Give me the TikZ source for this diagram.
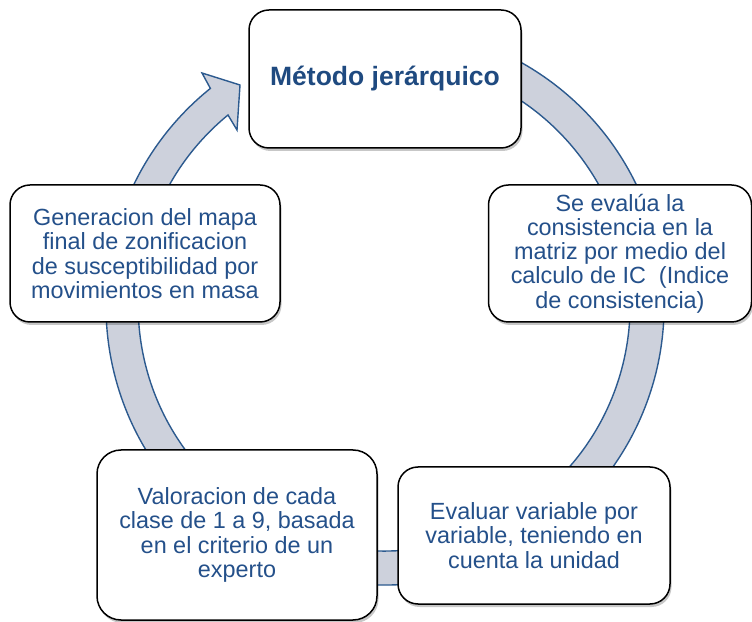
\documentclass[tikz,border=0pt]{standalone}
\usepackage{fontspec}
\setmainfont{Liberation Sans}
\usetikzlibrary{shadows}
\definecolor{txtblue}{HTML}{24508A}
\definecolor{titleblue}{HTML}{1F4A80}
\definecolor{bandfill}{HTML}{CDD1DC}
\definecolor{bandline}{HTML}{2C5A8F}
\tikzset{
  cyclebox/.style={draw=black, line width=1.5pt, fill=white, rounded corners=20pt,
    drop shadow={shadow xshift=1.5pt, shadow yshift=-3pt, opacity=0.22, fill=black},
    align=center, text=txtblue, inner sep=0pt,
    font=\fontsize{23.4}{24.3}\selectfont},
  band/.style={draw=bandline, line width=1.4pt, fill=bandfill}
}
\begin{document}
\begin{tikzpicture}[x=1pt,y=1pt]
\useasboundingbox (0,0) rectangle (752,621);
\coordinate (c) at (385,315);
% circular arrow band
\draw[band] (c) ++(100:279pt) arc[start angle=100, end angle=-231.25, radius=279pt]
  -- (202,548) -- (240,536) -- (237,491) -- (228,506)
  arc[start angle=-230.6, end angle=100, radius=246pt] -- cycle;
% boxes
\node[cyclebox, minimum width=272pt, minimum height=138pt, text=titleblue,
  font=\fontsize{26.5}{28}\selectfont\bfseries] (top) at (385,542) {Método jerárquico};
\node[cyclebox, minimum width=263pt, minimum height=137pt] (right) at (620,367.5)
  {Se evalúa la\\consistencia en la\\matriz por medio del\\calculo de IC~ (Indice\\de consistencia)};
\node[cyclebox, minimum width=272pt, minimum height=137pt] (bright) at (534,85.5)
  {Evaluar variable por\\variable, teniendo en\\cuenta la unidad};
\node[cyclebox, minimum width=280pt, minimum height=170pt, rounded corners=24pt] (bleft) at (237,86)
  {Valoracion de cada\\clase de 1 a 9, basada\\en el criterio de un\\experto};
\node[cyclebox, minimum width=270pt, minimum height=137pt] (left) at (145,367.5)
  {Generacion del mapa\\final de zonificacion\\de susceptibilidad por\\movimientos en masa};
\end{tikzpicture}
\end{document}
